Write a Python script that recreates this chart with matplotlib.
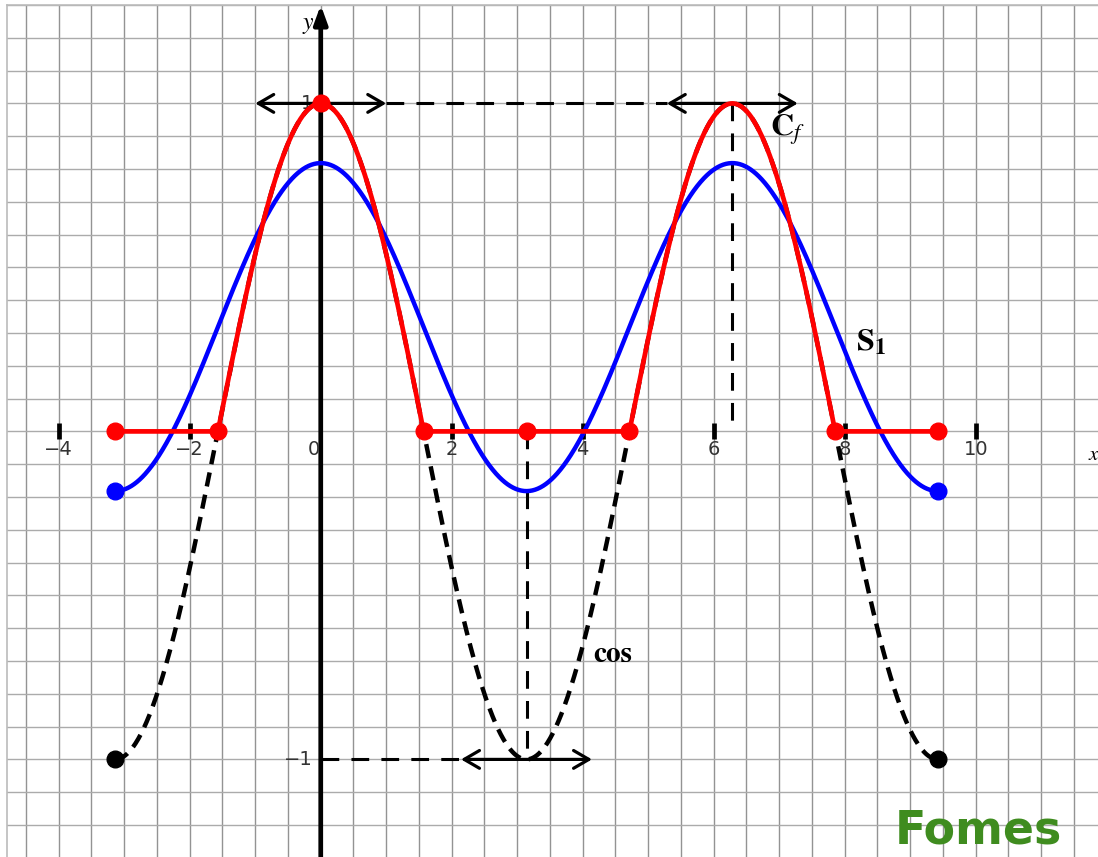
import numpy as np
import matplotlib.pyplot as plt

# values
x_start, x_end = -np.pi, 3 * np.pi
a0, a1 = 0.318, 0.5              # S1 = a0 + a1*cos x  (peak 0.818, trough -0.182)
red_zero_x = [-np.pi, -np.pi / 2, np.pi / 2, np.pi, 3 * np.pi / 2, 5 * np.pi / 2, 3 * np.pi]
red_top_x = [0.0]
end_x = [-np.pi, 3 * np.pi]
peak_x = [0.0, 2 * np.pi]
trough_x = [np.pi]
arrow_half = 1.0
tick_x = [-4, -2, 2, 4, 6, 8, 10]
tick_lbl = ['\u22124', '\u22122', '2', '4', '6', '8', '10']

x = np.linspace(x_start, x_end, 1200)
cosx = np.cos(x)
cf = np.maximum(cosx, 0)
s1 = a0 + a1 * cosx

W, H = 1098, 857
fig = plt.figure(figsize=(W / 100, H / 100), dpi=100)
ax = fig.add_axes([7 / W, 0, 1 - 7 / W, 852 / H])
ax.set_xlim(-4.79, -4.79 + 1091 / 65.5)
ax.set_ylim(1.3 - 852 / 328, 1.3)

# squared paper
ax.set_xticks(np.arange(-4.5, 12, 0.5))
ax.set_yticks(np.arange(-1.2, 1.31, 0.1))
ax.tick_params(length=0, labelbottom=False, labelleft=False)
ax.xaxis.grid(True, color='#939393', lw=1.0, zorder=0)
ax.yaxis.grid(True, color='#ababab', lw=1.0, zorder=0)
ax.set_axisbelow(True)
for side in ['right', 'bottom']:
    ax.spines[side].set_visible(False)
for side in ['left', 'top']:
    ax.spines[side].set_color('#bbbbbb')
    ax.spines[side].set_linewidth(1.2)

# coordinate axes
ax.annotate('', xy=(12.0, 0), xytext=(-4.79, 0),
            arrowprops=dict(arrowstyle='-|>,head_length=0.5,head_width=0.22', lw=3.4,
                            color='k', mutation_scale=20, shrinkA=0, shrinkB=0), zorder=2.5)
ax.annotate('', xy=(0, 1.3), xytext=(0, -1.4),
            arrowprops=dict(arrowstyle='-|>,head_length=0.55,head_width=0.2', lw=3.4,
                            color='k', mutation_scale=20, shrinkA=0, shrinkB=0), zorder=2.5)
ax.plot(tick_x, np.zeros(len(tick_x)), ls='none', marker='|', ms=12, mew=3.4, color='k', zorder=2.5)
for t, lab in zip(tick_x, tick_lbl):
    ax.text(t, -0.056, lab, ha='center', va='center', fontsize=14, color='#333333')
ax.text(-0.107, -0.056, '0', ha='center', va='center', fontsize=14, color='#333333')
ax.text(-0.12, 1.0, '1', ha='right', va='center', fontsize=14, color='#333333', zorder=2)
ax.text(-0.12, -1.0, '\u22121', ha='right', va='center', fontsize=14, color='#333333', zorder=2)
ax.text(-0.11, 1.245, 'y', ha='right', va='center', fontsize=17,
        family='STIXGeneral', style='italic')
ax.text(11.865, -0.07, 'x', ha='right', va='center', fontsize=15,
        family='STIXGeneral', style='italic')

# dashed guide lines
guide = dict(color='k', lw=2.2, dashes=(5.8, 4.0), zorder=2)
ax.plot([peak_x[0] + arrow_half, peak_x[1] - arrow_half], [1, 1], **guide)
ax.plot([peak_x[1], peak_x[1]], [1, 0], **guide)
ax.plot([trough_x[0], trough_x[0]], [0, -1], **guide)
ax.plot([0, trough_x[0] - arrow_half], [-1, -1], **guide)

arr = dict(arrowstyle='<->,head_length=0.55,head_width=0.32', lw=2.3, color='k',
           mutation_scale=20, shrinkA=0, shrinkB=0)
for px in peak_x:
    ax.annotate('', xy=(px + arrow_half, 1), xytext=(px - arrow_half, 1), arrowprops=arr, zorder=2.6)
for px in trough_x:
    ax.annotate('', xy=(px + arrow_half, -1), xytext=(px - arrow_half, -1), arrowprops=arr, zorder=2.6)

# curves
ax.plot(x, cosx, color='k', lw=3.2, dashes=(3.2, 1.9), zorder=3)
ax.plot(x, s1, color='#0000ff', lw=3.2, zorder=4)
ax.plot(x, cf, color='#ff0000', lw=3.4, zorder=5)

ax.plot(end_x, np.cos(end_x), 'o', color='k', ms=12, zorder=6)
ax.plot(end_x, a0 + a1 * np.cos(end_x), 'o', color='#0000ff', ms=12, zorder=6)
ax.plot(red_zero_x, np.zeros(len(red_zero_x)), 'o', color='#ff0000', ms=12, zorder=7)
ax.plot(red_top_x, np.maximum(np.cos(red_top_x), 0), 'o', color='#ff0000', ms=12, zorder=7)

# curve names
plt.rcParams['mathtext.fontset'] = 'stix'
ax.text(6.855, 0.902, r'$\mathbf{C}_{f}$', fontsize=23, ha='left', va='baseline',
        family='STIXGeneral')
ax.text(8.17, 0.247, r'$\mathbf{S}_{\mathbf{1}}$', fontsize=23, ha='left', va='baseline',
        family='STIXGeneral')
ax.text(4.16, -0.704, 'cos', fontsize=21, weight='bold', ha='left', va='baseline',
        family='STIXGeneral')

# watermark in the lower right corner
fig.text(895 / W, 3 / H, 'Fomes', fontsize=33, weight='bold',
         color='#3f8c1f', ha='left', va='bottom')

fig.savefig('out.png', dpi=100)
